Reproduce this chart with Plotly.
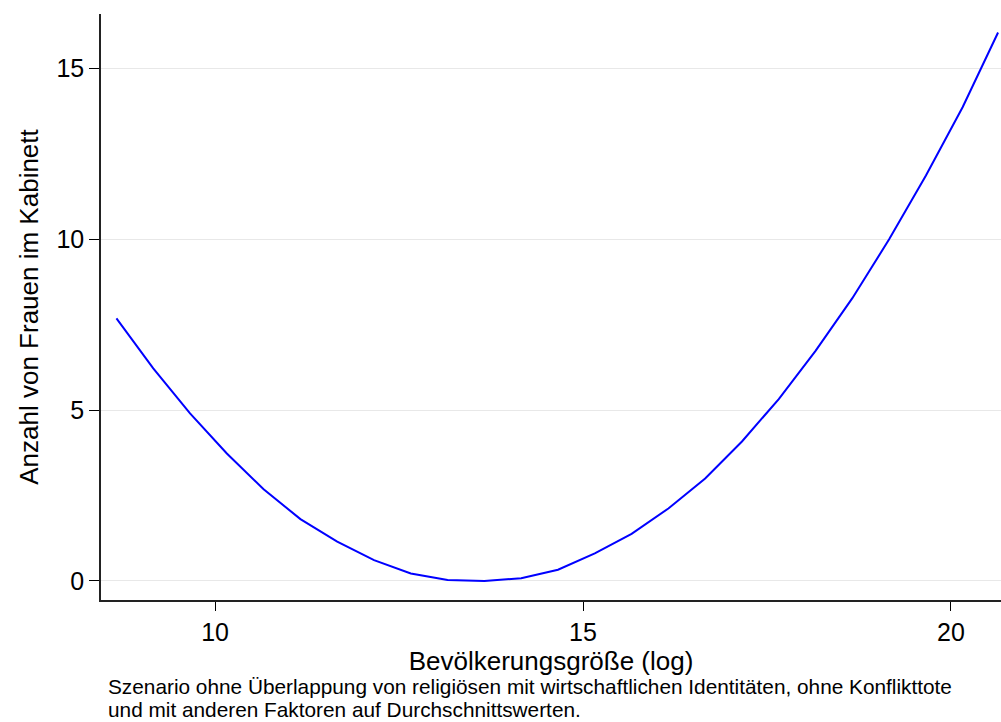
import plotly.graph_objects as go

# Bevölkerungsgröße (log)
pop_log = [8.66, 9.16, 9.66, 10.16, 10.66, 11.16, 11.66, 12.16, 12.66, 13.16,
           13.66, 14.16, 14.66, 15.16, 15.66, 16.16, 16.66, 17.16, 17.66, 18.16,
           18.66, 19.16, 19.66, 20.16, 20.64]
# Anzahl von Frauen im Kabinett (vorhergesagt)
women = [7.68, 6.22, 4.90, 3.73, 2.68, 1.81, 1.15, 0.61, 0.22, 0.03,
         0.00, 0.08, 0.33, 0.81, 1.38, 2.12, 3.00, 4.08, 5.32, 6.73,
         8.27, 9.99, 11.86, 13.86, 16.04]

x_ticks = [10, 15, 20]
y_ticks = [0, 5, 10, 15]

caption_lines = [
    "Szenario ohne Überlappung von religiösen mit wirtschaftlichen Identitäten, ohne Konflikttote",
    "und mit anderen Faktoren auf Durchschnittswerten.",
]

FONT = "Liberation Sans, Arial, sans-serif"
PLOT_TOP, PLOT_BOTTOM = 14, 600
PLOT_H = PLOT_BOTTOM - PLOT_TOP

fig = go.Figure()
fig.add_trace(go.Scatter(x=pop_log, y=women, mode="lines",
                         line=dict(color="#0000ff", width=2), showlegend=False))

fig.update_layout(
    width=1001, height=722,
    margin=dict(l=101, r=0, t=PLOT_TOP, b=722 - PLOT_BOTTOM),
    paper_bgcolor="white", plot_bgcolor="white",
    font=dict(family=FONT, color="black", size=25),
    xaxis=dict(range=[8.45, 20.68], tickvals=x_ticks, ticks="outside", ticklen=9,
               tickcolor="black", tickwidth=1, showline=True, linecolor="#222",
               linewidth=1.5, showgrid=False, zeroline=False,
               tickfont=dict(size=25, family=FONT),
               title=dict(text="Bevölkerungsgröße (log)", font=dict(size=26, family=FONT), standoff=3)),
    yaxis=dict(range=[-0.556, 16.58], tickvals=y_ticks, ticks="outside", ticklen=10,
               tickcolor="black", tickwidth=1, showline=True, linecolor="#222",
               linewidth=1.5, showgrid=True, gridcolor="#e8e8e8", gridwidth=1,
               zeroline=False, tickfont=dict(size=25, family=FONT),
               title=dict(text="Anzahl von Frauen im Kabinett", font=dict(size=26, family=FONT), standoff=10)),
)

caption_centers = [687, 709]
for line, py in zip(caption_lines, caption_centers):
    fig.add_annotation(text=line, xref="paper", yref="paper",
                       x=0.006, y=(PLOT_BOTTOM - py) / PLOT_H, xanchor="left", yanchor="middle",
                       showarrow=False, font=dict(size=20.8, family=FONT, color="black"))

fig.write_html("out.html")
